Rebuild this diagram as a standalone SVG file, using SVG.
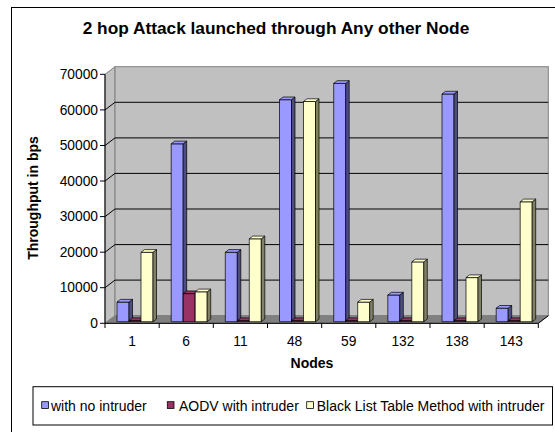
<svg xmlns="http://www.w3.org/2000/svg" width="555" height="432" viewBox="0 0 555 432">
<style>
text{font-family:"Liberation Sans",Arial,sans-serif;fill:#000}
.t{font-size:17.3px;font-weight:bold;text-anchor:middle}
.at{font-size:14px;font-weight:bold;text-anchor:middle}
.yl{font-size:13.8px;text-anchor:end}
.xl{font-size:13.8px;text-anchor:middle}
.lg{font-size:14px}
.grid{stroke:#000;stroke-width:1;fill:none}
.ax{stroke:#000;stroke-width:1;fill:none}
.sw{stroke:#000;stroke-width:0.8}
.b,.bs,.bt,.m,.ms,.mt,.y,.ys,.yt{stroke:#000;stroke-width:0.7;stroke-linejoin:round}
.b,.bt{fill:#9999FF}.bs{fill:#4D4D80}
.m,.mt{fill:#993366}.ms{fill:#4D1A33}
.y,.yt{fill:#FFFFCC}.ys{fill:#808066}
</style>
<rect x="11.5" y="7.5" width="560" height="440" fill="#fff" stroke="#000" stroke-width="1"/>
<text class="t" x="276" y="34">2 hop Attack launched through Any other Node</text>
<g id="walls">
<polygon points="105,74.3 115,66.7 115,315.7 105,323.3" fill="#C0C0C0" stroke="#808080" stroke-width="1"/>
<rect x="115" y="66.7" width="433.3" height="249" fill="#C0C0C0" stroke="#808080" stroke-width="1"/>
<polygon points="105,323.3 115,315.7 548.3,315.7 538.3,323.3" fill="#808080" stroke="#808080" stroke-width="1"/>
</g>
<g id="gridlines">
<path class="grid" d="M105,287.7L115,280.1H548.3M105,252.2L115,244.6H548.3M105,216.6L115,209H548.3M105,181L115,173.4H548.3M105,145.5L115,137.9H548.3M105,109.9L115,102.3H548.3"/>
</g>
<g id="axes">
<path class="ax" d="M105,74.3V328M100,74.3H105M100,109.9H105M100,145.5H105M100,181H105M100,216.6H105M100,252.2H105M100,287.7H105M100,323.3H105"/>
<path class="ax" d="M105,323.3H538.3L548.3,315.7M159.2,323.3V328M213.3,323.3V328M267.5,323.3V328M321.7,323.3V328M375.8,323.3V328M430,323.3V328M484.2,323.3V328M538.3,323.3V328"/>
<text class="yl" x="98" y="79">70000</text>
<text class="yl" x="98" y="114.5">60000</text>
<text class="yl" x="98" y="150">50000</text>
<text class="yl" x="98" y="185.5">40000</text>
<text class="yl" x="98" y="221">30000</text>
<text class="yl" x="98" y="256.7">20000</text>
<text class="yl" x="98" y="292.2">10000</text>
<text class="yl" x="98" y="328">0</text>
<text class="at" transform="translate(38,198) rotate(-90)">Throughput in bps</text>
<text class="at" x="312" y="368">Nodes</text>
</g>
<g id="cat-1">
<g transform="translate(117,321.7)"><rect class="b" y="-19.6" width="12" height="19.6"/><polygon class="bs" points="12,0 15.5,-2.7 15.5,-22.3 12,-19.6"/><polygon class="bt" points="0,-19.6 3.5,-22.3 15.5,-22.3 12,-19.6"/></g>
<g transform="translate(129,321.7)"><rect class="m" y="-1.1" width="12" height="1.1"/><polygon class="ms" points="12,0 15.5,-2.7 15.5,-3.8 12,-1.1"/><polygon class="mt" points="0,-1.1 3.5,-3.8 15.5,-3.8 12,-1.1"/></g>
<g transform="translate(141,321.7)"><rect class="y" y="-69.4" width="12" height="69.4"/><polygon class="ys" points="12,0 15.5,-2.7 15.5,-72.1 12,-69.4"/><polygon class="yt" points="0,-69.4 3.5,-72.1 15.5,-72.1 12,-69.4"/></g>
<text class="xl" x="132.1" y="346">1</text>
</g>
<g id="cat-6">
<g transform="translate(171.2,321.7)"><rect class="b" y="-177.9" width="12" height="177.9"/><polygon class="bs" points="12,0 15.5,-2.7 15.5,-180.6 12,-177.9"/><polygon class="bt" points="0,-177.9 3.5,-180.6 15.5,-180.6 12,-177.9"/></g>
<g transform="translate(183.2,321.7)"><rect class="m" y="-28.1" width="12" height="28.1"/><polygon class="ms" points="12,0 15.5,-2.7 15.5,-30.8 12,-28.1"/><polygon class="mt" points="0,-28.1 3.5,-30.8 15.5,-30.8 12,-28.1"/></g>
<g transform="translate(195.2,321.7)"><rect class="y" y="-29.9" width="12" height="29.9"/><polygon class="ys" points="12,0 15.5,-2.7 15.5,-32.6 12,-29.9"/><polygon class="yt" points="0,-29.9 3.5,-32.6 15.5,-32.6 12,-29.9"/></g>
<text class="xl" x="186.2" y="346">6</text>
</g>
<g id="cat-11">
<g transform="translate(225.3,321.7)"><rect class="b" y="-69.4" width="12" height="69.4"/><polygon class="bs" points="12,0 15.5,-2.7 15.5,-72.1 12,-69.4"/><polygon class="bt" points="0,-69.4 3.5,-72.1 15.5,-72.1 12,-69.4"/></g>
<g transform="translate(237.3,321.7)"><rect class="m" y="-1.1" width="12" height="1.1"/><polygon class="ms" points="12,0 15.5,-2.7 15.5,-3.8 12,-1.1"/><polygon class="mt" points="0,-1.1 3.5,-3.8 15.5,-3.8 12,-1.1"/></g>
<g transform="translate(249.3,321.7)"><rect class="y" y="-82.9" width="12" height="82.9"/><polygon class="ys" points="12,0 15.5,-2.7 15.5,-85.6 12,-82.9"/><polygon class="yt" points="0,-82.9 3.5,-85.6 15.5,-85.6 12,-82.9"/></g>
<text class="xl" x="240.4" y="346">11</text>
</g>
<g id="cat-48">
<g transform="translate(279.5,321.7)"><rect class="b" y="-222" width="12" height="222"/><polygon class="bs" points="12,0 15.5,-2.7 15.5,-224.7 12,-222"/><polygon class="bt" points="0,-222 3.5,-224.7 15.5,-224.7 12,-222"/></g>
<g transform="translate(291.5,321.7)"><rect class="m" y="-1.1" width="12" height="1.1"/><polygon class="ms" points="12,0 15.5,-2.7 15.5,-3.8 12,-1.1"/><polygon class="mt" points="0,-1.1 3.5,-3.8 15.5,-3.8 12,-1.1"/></g>
<g transform="translate(303.5,321.7)"><rect class="y" y="-220.2" width="12" height="220.2"/><polygon class="ys" points="12,0 15.5,-2.7 15.5,-222.9 12,-220.2"/><polygon class="yt" points="0,-220.2 3.5,-222.9 15.5,-222.9 12,-220.2"/></g>
<text class="xl" x="294.6" y="346">48</text>
</g>
<g id="cat-59">
<g transform="translate(333.7,321.7)"><rect class="b" y="-238.3" width="12" height="238.3"/><polygon class="bs" points="12,0 15.5,-2.7 15.5,-241 12,-238.3"/><polygon class="bt" points="0,-238.3 3.5,-241 15.5,-241 12,-238.3"/></g>
<g transform="translate(345.7,321.7)"><rect class="m" y="-1.1" width="12" height="1.1"/><polygon class="ms" points="12,0 15.5,-2.7 15.5,-3.8 12,-1.1"/><polygon class="mt" points="0,-1.1 3.5,-3.8 15.5,-3.8 12,-1.1"/></g>
<g transform="translate(357.7,321.7)"><rect class="y" y="-19.6" width="12" height="19.6"/><polygon class="ys" points="12,0 15.5,-2.7 15.5,-22.3 12,-19.6"/><polygon class="yt" points="0,-19.6 3.5,-22.3 15.5,-22.3 12,-19.6"/></g>
<text class="xl" x="348.8" y="346">59</text>
</g>
<g id="cat-132">
<g transform="translate(387.8,321.7)"><rect class="b" y="-26.7" width="12" height="26.7"/><polygon class="bs" points="12,0 15.5,-2.7 15.5,-29.4 12,-26.7"/><polygon class="bt" points="0,-26.7 3.5,-29.4 15.5,-29.4 12,-26.7"/></g>
<g transform="translate(399.8,321.7)"><rect class="m" y="-1.1" width="12" height="1.1"/><polygon class="ms" points="12,0 15.5,-2.7 15.5,-3.8 12,-1.1"/><polygon class="mt" points="0,-1.1 3.5,-3.8 15.5,-3.8 12,-1.1"/></g>
<g transform="translate(411.8,321.7)"><rect class="y" y="-59.8" width="12" height="59.8"/><polygon class="ys" points="12,0 15.5,-2.7 15.5,-62.5 12,-59.8"/><polygon class="yt" points="0,-59.8 3.5,-62.5 15.5,-62.5 12,-59.8"/></g>
<text class="xl" x="402.9" y="346">132</text>
</g>
<g id="cat-138">
<g transform="translate(442,321.7)"><rect class="b" y="-227.7" width="12" height="227.7"/><polygon class="bs" points="12,0 15.5,-2.7 15.5,-230.4 12,-227.7"/><polygon class="bt" points="0,-227.7 3.5,-230.4 15.5,-230.4 12,-227.7"/></g>
<g transform="translate(454,321.7)"><rect class="m" y="-1.1" width="12" height="1.1"/><polygon class="ms" points="12,0 15.5,-2.7 15.5,-3.8 12,-1.1"/><polygon class="mt" points="0,-1.1 3.5,-3.8 15.5,-3.8 12,-1.1"/></g>
<g transform="translate(466,321.7)"><rect class="y" y="-44.1" width="12" height="44.1"/><polygon class="ys" points="12,0 15.5,-2.7 15.5,-46.8 12,-44.1"/><polygon class="yt" points="0,-44.1 3.5,-46.8 15.5,-46.8 12,-44.1"/></g>
<text class="xl" x="457.1" y="346">138</text>
</g>
<g id="cat-143">
<g transform="translate(496.2,321.7)"><rect class="b" y="-13.5" width="12" height="13.5"/><polygon class="bs" points="12,0 15.5,-2.7 15.5,-16.2 12,-13.5"/><polygon class="bt" points="0,-13.5 3.5,-16.2 15.5,-16.2 12,-13.5"/></g>
<g transform="translate(508.2,321.7)"><rect class="m" y="-1.1" width="12" height="1.1"/><polygon class="ms" points="12,0 15.5,-2.7 15.5,-3.8 12,-1.1"/><polygon class="mt" points="0,-1.1 3.5,-3.8 15.5,-3.8 12,-1.1"/></g>
<g transform="translate(520.2,321.7)"><rect class="y" y="-119.9" width="12" height="119.9"/><polygon class="ys" points="12,0 15.5,-2.7 15.5,-122.6 12,-119.9"/><polygon class="yt" points="0,-119.9 3.5,-122.6 15.5,-122.6 12,-119.9"/></g>
<text class="xl" x="511.3" y="346">143</text>
</g>
<g id="legend">
<rect x="33" y="386.7" width="519.5" height="38.3" fill="#fff" stroke="#000" stroke-width="1"/>
<rect class="sw" x="41.7" y="401.7" width="6.7" height="6.7" fill="#9999FF"/>
<text class="lg" x="51" y="411">with no intruder</text>
<rect class="sw" x="167.3" y="401.7" width="6.7" height="6.7" fill="#993366"/>
<text class="lg" x="179" y="411">AODV with intruder</text>
<rect class="sw" x="306.7" y="401.7" width="6.7" height="6.7" fill="#FFFFCC"/>
<text class="lg" x="316.7" y="411">Black List Table Method with intruder</text>
</g>
</svg>
